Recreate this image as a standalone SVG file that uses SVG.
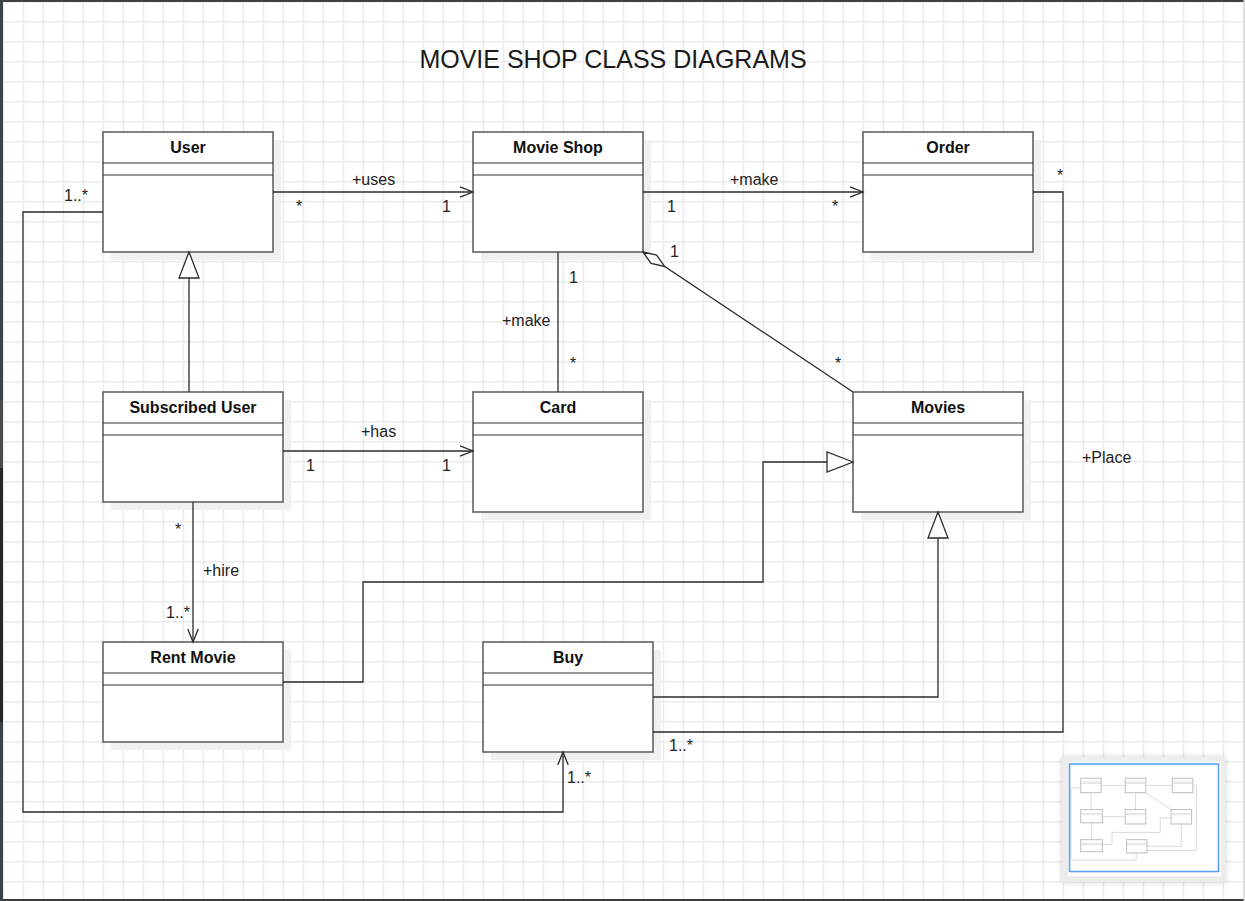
<svg xmlns="http://www.w3.org/2000/svg" width="1245" height="901" viewBox="0 0 1245 901">
<defs>
<style>
.box{fill:#fff;stroke:#595959;stroke-width:1.5}
.shadow{fill:#f0f0f0}
.sep{stroke:#333;stroke-width:1.2}
.name{font-family:"Liberation Sans",Arial,sans-serif;font-size:16px;font-weight:bold;text-anchor:middle;fill:#111}
.lbl{font-family:"Liberation Sans",Arial,sans-serif;font-size:16px;fill:#222}
.title{font-family:"Liberation Sans",Arial,sans-serif;font-size:25px;text-anchor:middle;fill:#1a1a1a}
.edge{fill:none;stroke:#2b2b2b;stroke-width:1.3}
.mbox{fill:#fff;stroke:#c2c2c2;stroke-width:9}
.msep{stroke:#cfcfcf;stroke-width:5}
.medge{fill:none;stroke:#dadada;stroke-width:8}
</style>
<pattern id="grid" width="20" height="20" patternUnits="userSpaceOnUse"><path d="M3.5,0V20M0,1.75H20" stroke="#ebebeb" stroke-width="1.5" fill="none"/></pattern>
<marker id="open" markerUnits="userSpaceOnUse" orient="auto" viewBox="-15 -7 17 14" markerWidth="17" markerHeight="14" refX="0" refY="0"><path d="M-13,-5.2L0,0L-13,5.2" fill="none" stroke="#2b2b2b" stroke-width="1.3"/></marker>
<marker id="tri" markerUnits="userSpaceOnUse" orient="auto" viewBox="-28 -12 30 24" markerWidth="30" markerHeight="24" refX="0" refY="0"><path d="M0,0L-26,-10L-26,10Z" fill="#fff" stroke="#2b2b2b" stroke-width="1.3"/></marker>
<marker id="dia" markerUnits="userSpaceOnUse" orient="auto" viewBox="-2 -7 30 14" markerWidth="30" markerHeight="14" refX="0" refY="0"><path d="M0,0L13,-5L26,0L13,5Z" fill="#fff" stroke="#2b2b2b" stroke-width="1.3"/></marker>
<filter id="soft" x="-20%" y="-20%" width="140%" height="140%"><feGaussianBlur stdDeviation="3"/></filter>
</defs>

<rect x="0" y="0" width="1245" height="901" fill="#fff"/>
<rect x="0" y="0" width="1245" height="901" fill="url(#grid)"/>

<g id="frame">
<rect x="0" y="0" width="1245" height="2" fill="#3c4043"/>
<rect x="0" y="899" width="1245" height="2" fill="#3a3a3a"/>
<rect x="0" y="0" width="3" height="901" fill="#3a4347"/>
<rect x="0" y="400" width="3" height="68" fill="#4c4c4c"/>
<rect x="0" y="468" width="3" height="254" fill="#262626"/>
<rect x="1243.5" y="0" width="1.5" height="901" fill="#dcdcdc"/>
</g>

<text class="title" x="613" y="68">MOVIE SHOP CLASS DIAGRAMS</text>

<g id="node-user">
<rect class="shadow" x="111" y="140" width="170" height="120"/>
<rect class="box" x="103" y="132" width="170" height="120"/>
<line class="sep" x1="103" y1="163" x2="273" y2="163"/>
<line class="sep" x1="103" y1="175" x2="273" y2="175"/>
<text class="name" x="188" y="153">User</text>
</g>
<g id="node-movieshop">
<rect class="shadow" x="481" y="140" width="170" height="120"/>
<rect class="box" x="473" y="132" width="170" height="120"/>
<line class="sep" x1="473" y1="163" x2="643" y2="163"/>
<line class="sep" x1="473" y1="175" x2="643" y2="175"/>
<text class="name" x="558" y="153">Movie Shop</text>
</g>
<g id="node-order">
<rect class="shadow" x="871" y="140" width="170" height="120"/>
<rect class="box" x="863" y="132" width="170" height="120"/>
<line class="sep" x1="863" y1="163" x2="1033" y2="163"/>
<line class="sep" x1="863" y1="175" x2="1033" y2="175"/>
<text class="name" x="948" y="153">Order</text>
</g>
<g id="node-subscribeduser">
<rect class="shadow" x="111" y="400" width="180" height="110"/>
<rect class="box" x="103" y="392" width="180" height="110"/>
<line class="sep" x1="103" y1="423" x2="283" y2="423"/>
<line class="sep" x1="103" y1="435" x2="283" y2="435"/>
<text class="name" x="193" y="413">Subscribed User</text>
</g>
<g id="node-card">
<rect class="shadow" x="481" y="400" width="170" height="120"/>
<rect class="box" x="473" y="392" width="170" height="120"/>
<line class="sep" x1="473" y1="423" x2="643" y2="423"/>
<line class="sep" x1="473" y1="435" x2="643" y2="435"/>
<text class="name" x="558" y="413">Card</text>
</g>
<g id="node-movies">
<rect class="shadow" x="861" y="400" width="170" height="120"/>
<rect class="box" x="853" y="392" width="170" height="120"/>
<line class="sep" x1="853" y1="423" x2="1023" y2="423"/>
<line class="sep" x1="853" y1="435" x2="1023" y2="435"/>
<text class="name" x="938" y="413">Movies</text>
</g>
<g id="node-rentmovie">
<rect class="shadow" x="111" y="650" width="180" height="100"/>
<rect class="box" x="103" y="642" width="180" height="100"/>
<line class="sep" x1="103" y1="673" x2="283" y2="673"/>
<line class="sep" x1="103" y1="685" x2="283" y2="685"/>
<text class="name" x="193" y="663">Rent Movie</text>
</g>
<g id="node-buy">
<rect class="shadow" x="491" y="650" width="170" height="110"/>
<rect class="box" x="483" y="642" width="170" height="110"/>
<line class="sep" x1="483" y1="673" x2="653" y2="673"/>
<line class="sep" x1="483" y1="685" x2="653" y2="685"/>
<text class="name" x="568" y="663">Buy</text>
</g>

<g id="connectors">
<path class="edge" d="M273,192H473" marker-end="url(#open)"/>
<path class="edge" d="M643,192H863" marker-end="url(#open)"/>
<path class="edge" d="M1033,192H1063V732H653"/>
<path class="edge" d="M558,252V392"/>
<path class="edge" d="M643,252L853,392" marker-start="url(#dia)"/>
<path class="edge" d="M189,392V252" marker-end="url(#tri)"/>
<path class="edge" d="M283,451H473" marker-end="url(#open)"/>
<path class="edge" d="M193,502V642" marker-end="url(#open)"/>
<path class="edge" d="M283,682H363V582H763V462H853" marker-end="url(#tri)"/>
<path class="edge" d="M653,697H938V512" marker-end="url(#tri)"/>
<path class="edge" d="M103,212H23V812H563V752" marker-end="url(#open)"/>
</g>

<g id="connector-labels">
<text class="lbl" x="352" y="185">+uses</text>
<text class="lbl" x="296" y="212">*</text>
<text class="lbl" x="442" y="212">1</text>
<text class="lbl" x="730" y="185">+make</text>
<text class="lbl" x="667" y="212">1</text>
<text class="lbl" x="832" y="212">*</text>
<text class="lbl" x="1057" y="181">*</text>
<text class="lbl" x="1082" y="463">+Place</text>
<text class="lbl" x="669" y="751">1..*</text>
<text class="lbl" x="569" y="283">1</text>
<text class="lbl" x="502" y="326">+make</text>
<text class="lbl" x="570" y="369">*</text>
<text class="lbl" x="670" y="257">1</text>
<text class="lbl" x="835" y="369">*</text>
<text class="lbl" x="361" y="437">+has</text>
<text class="lbl" x="306" y="471">1</text>
<text class="lbl" x="442" y="471">1</text>
<text class="lbl" x="175" y="535">*</text>
<text class="lbl" x="203" y="576">+hire</text>
<text class="lbl" x="166" y="618">1..*</text>
<text class="lbl" x="64" y="201">1..*</text>
<text class="lbl" x="567" y="783">1..*</text>
</g>

<g id="minimap">
<rect x="1062" y="757" width="163" height="125" fill="#000" opacity="0.18" filter="url(#soft)"/>
<rect x="1062" y="757" width="163" height="125" fill="#ececec"/>
<rect x="1068" y="762" width="153" height="114" fill="#fff"/>
<g transform="translate(1068.3,762.3) scale(0.1205)">
<path class="medge" d="M273,192H473M643,192H863M1033,192H1063V732H653M558,252V392M643,252L853,392M189,392V252M283,451H473M193,502V642M283,682H363V582H763V462H853M653,697H938V512M103,212H23V812H563V752"/>
<rect class="mbox" x="103" y="132" width="170" height="120"/>
<rect class="mbox" x="473" y="132" width="170" height="120"/>
<rect class="mbox" x="863" y="132" width="170" height="120"/>
<rect class="mbox" x="103" y="392" width="180" height="110"/>
<rect class="mbox" x="473" y="392" width="170" height="120"/>
<rect class="mbox" x="853" y="392" width="170" height="120"/>
<rect class="mbox" x="103" y="642" width="180" height="100"/>
<rect class="mbox" x="483" y="642" width="170" height="110"/>
<path class="msep" d="M103,163H273M103,175H273M473,163H643M473,175H643M863,163H1033M863,175H1033M103,423H283M103,435H283M473,423H643M473,435H643M853,423H1023M853,435H1023M103,673H283M103,685H283M483,673H653M483,685H653"/>
</g>
<rect x="1069.5" y="764" width="149" height="107.5" fill="none" stroke="#5a9ff0" stroke-width="1.6"/>
</g>
</svg>
